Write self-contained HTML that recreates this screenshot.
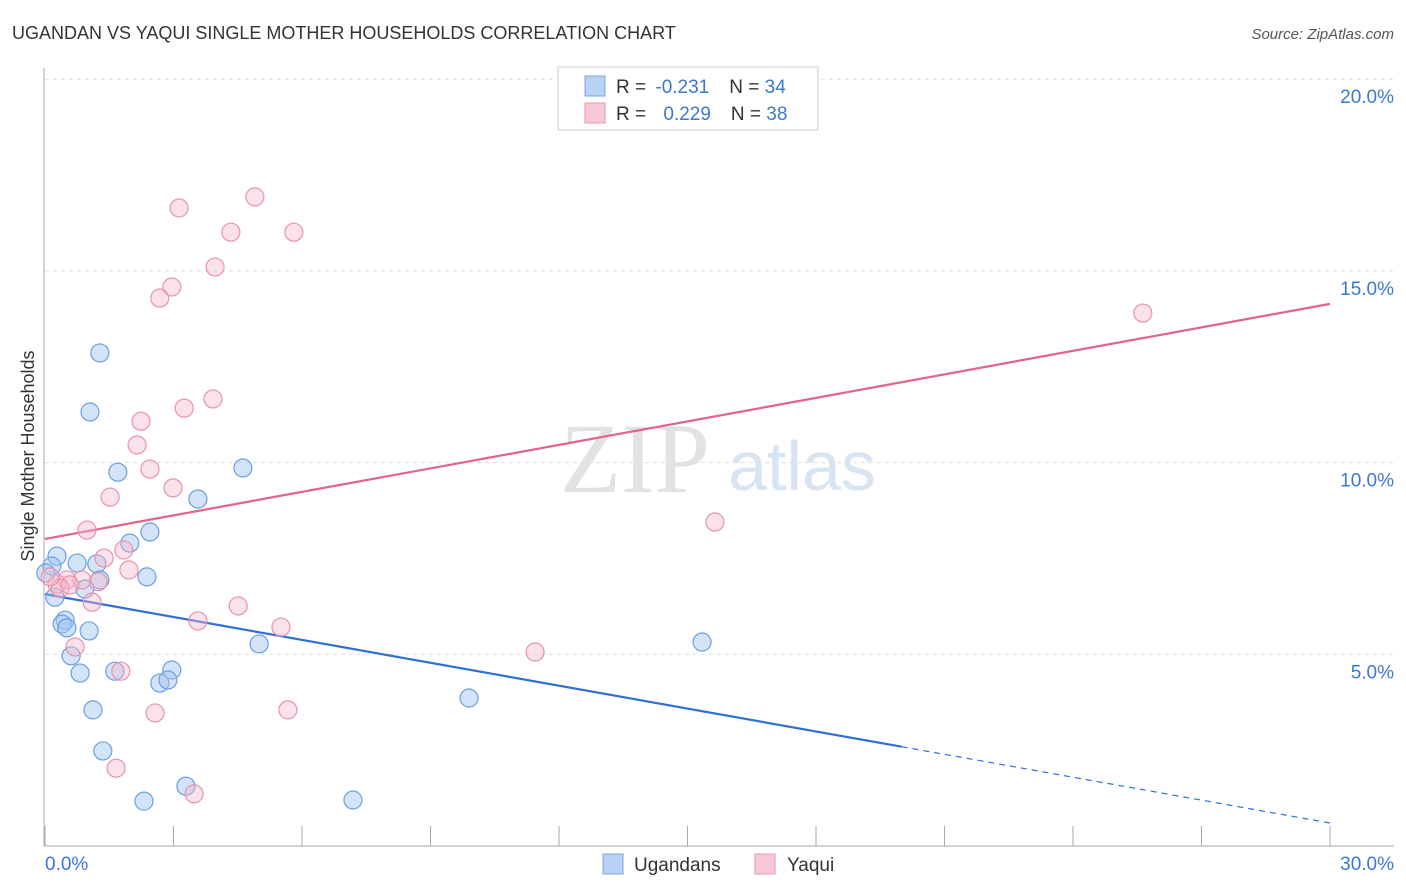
<!DOCTYPE html>
<html><head><meta charset="utf-8"><style>
body{margin:0;background:#fff;font-family:"Liberation Sans",sans-serif;}
#wrap{position:relative;width:1406px;height:892px;overflow:hidden;}
</style></head><body>
<div id="wrap">
<svg id="svg" width="1406" height="892" xmlns="http://www.w3.org/2000/svg">
<text x="12" y="39" font-size="18" fill="#333">UGANDAN VS YAQUI SINGLE MOTHER HOUSEHOLDS CORRELATION CHART</text>
<text x="1394" y="39" font-size="15" fill="#555" font-style="italic" text-anchor="end">Source: ZipAtlas.com</text>
<text x="635" y="492" font-size="100" fill="#e2e2e2" text-anchor="middle" font-family="Liberation Serif,serif">ZIP</text>
<text x="802" y="490" font-size="70" fill="#d7e4f3" text-anchor="middle">atlas</text>
<text transform="translate(34,456) rotate(-90)" font-size="18" fill="#333" text-anchor="middle">Single Mother Households</text>
<g id="grid"></g><g id="axes"></g><g id="trend"></g><g id="pts"></g>
<g>
<rect x="558" y="67" width="260" height="63" fill="#fff" stroke="#ccc"/>
<rect x="585" y="76" width="20" height="20" fill="#b8d3f5" stroke="#7aa6dd"/>
<rect x="585" y="103" width="20" height="20" fill="#f8c8d7" stroke="#e99ab3"/>
<text x="616" y="93" font-size="19" fill="#333">R = <tspan fill="#3a78d0" dx="4">-0.231</tspan><tspan dx="20">N = </tspan><tspan fill="#3a78d0">34</tspan></text>
<text x="616" y="120" font-size="19" fill="#333">R = <tspan fill="#3a78d0" dx="12">0.229</tspan><tspan dx="20">N = </tspan><tspan fill="#3a78d0">38</tspan></text>
</g>
<g>
<rect x="603" y="854" width="20" height="20" fill="#b8d3f5" stroke="#7aa6dd"/>
<text x="634" y="871" font-size="19" fill="#333">Ugandans</text>
<rect x="755" y="854" width="20" height="20" fill="#f8c8d7" stroke="#e99ab3"/>
<text x="787" y="871" font-size="19" fill="#333">Yaqui</text>
</g>
</svg></div>
<script>
const blueX=[1.28,1.05,1.70,4.62,3.57,2.45,1.98,0.28,0.75,1.21,2.38,1.28,0.93,0.23,0.47,0.40,0.51,1.03,0.61,0.82,1.63,2.96,2.68,2.87,1.12,1.35,3.29,2.31,7.19,9.90,15.34,5.00,0.16,0.02];
const blueY=[12.86,11.32,9.75,9.86,9.05,8.19,7.90,7.56,7.38,7.36,7.02,6.94,6.70,6.49,5.89,5.79,5.69,5.61,4.96,4.51,4.56,4.59,4.25,4.33,3.55,2.48,1.56,1.17,1.20,3.86,5.32,5.27,7.30,7.12];
const pinkX=[3.13,4.90,4.34,5.81,3.97,2.96,2.68,25.63,3.92,3.25,2.24,2.15,2.45,2.99,1.52,15.64,0.98,1.84,1.38,1.96,1.24,0.86,0.51,0.28,0.35,1.10,4.51,3.57,5.51,0.70,11.44,1.77,2.57,5.67,1.66,3.48,0.12,0.58];
const pinkY=[16.64,16.93,16.01,16.01,15.10,14.58,14.29,13.90,11.66,11.42,11.08,10.46,9.83,9.34,9.10,8.45,8.24,7.72,7.51,7.20,6.89,6.94,6.94,6.83,6.73,6.36,6.26,5.87,5.71,5.19,5.06,4.56,3.47,3.55,2.03,1.36,7.02,6.81];
const blueTrend=[6.57,0.60];
const pinkTrend=[8.01,14.14];
const yTicks=[5,10,15,20];
const yTickLabels=["5.0%","10.0%","15.0%","20.0%"];
const NS="http://www.w3.org/2000/svg";
const sx=v=>45+v/30*1285;
const sy=v=>846-v/5*191.7;
function mk(tag,attrs,parent){const e=document.createElementNS(NS,tag);for(const k in attrs)e.setAttribute(k,attrs[k]);document.getElementById(parent).appendChild(e);return e;}
yTicks.forEach((t,i)=>{
 const l=mk('line',{x1:45,x2:1394,y1:sy(t),y2:sy(t),stroke:'#ddd','stroke-dasharray':'4,4'},'grid');
 
 
 const tx=mk('text',{x:1394,y:sy(t)+24,'font-size':19,fill:'#3a78d0','text-anchor':'end'},'axes');
 tx.textContent=yTickLabels[i];
 
 
});
let ax=mk('line',{x1:44,x2:44,y1:68,y2:846,stroke:'#aaa'},'axes');


ax=mk('line',{x1:44,x2:1394,y1:846,y2:846,stroke:'#aaa'},'axes');


for(let i=0;i<=10;i++){const t=mk('line',{x1:sx(i*3),x2:sx(i*3),y1:826,y2:846,stroke:'#aaa'},'axes');
 
 }
let xl=mk('text',{x:45,y:870,'font-size':19,fill:'#3a78d0'},'axes');xl.textContent='0.0%';


xl=mk('text',{x:1394,y:870,'font-size':19,fill:'#3a78d0','text-anchor':'end'},'axes');xl.textContent='30.0%';


function drawPts(X,Y,fill,stroke,name){X.forEach((x,i)=>{const c=mk('circle',{cx:sx(x),cy:sy(Y[i]),r:9,fill:fill,stroke:stroke,'stroke-width':1.2},'pts');
 
 });}
drawPts(blueX,blueY,'rgba(160,196,240,0.45)','#6b9fe0','ugandan-point');
drawPts(pinkX,pinkY,'rgba(246,180,200,0.4)','#e892ae','yaqui-point');
const bAt=x=>blueTrend[0]+(blueTrend[1]-blueTrend[0])*x/30;
let tl=mk('line',{x1:sx(0),y1:sy(bAt(0)),x2:sx(20),y2:sy(bAt(20)),stroke:'#2f6fd6','stroke-width':2.2},'trend');


tl=mk('line',{x1:sx(20),y1:sy(bAt(20)),x2:sx(30),y2:sy(bAt(30)),stroke:'#2f6fd6','stroke-width':1.2,'stroke-dasharray':'6,5'},'trend');


tl=mk('line',{x1:sx(0),y1:sy(pinkTrend[0]),x2:sx(30),y2:sy(pinkTrend[1]),stroke:'#e4628c','stroke-width':2.2},'trend');


</script>
</body></html>
